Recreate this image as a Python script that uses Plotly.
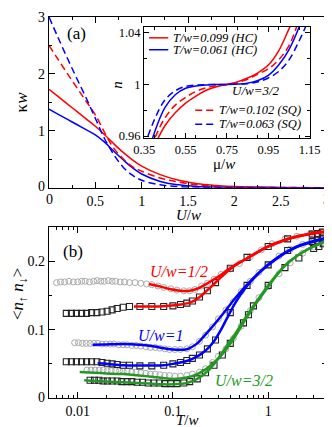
import plotly.graph_objects as go

# ---- panel (a): compressibility vs U/w
U_a = [0, 0.1, 0.2, 0.3, 0.4, 0.5, 0.6, 0.7, 0.8, 0.9, 1.0, 1.2, 1.4, 1.6, 1.8, 2.0, 2.5, 3.0]
kappa_hc_099 = [1.73, 1.60, 1.47, 1.34, 1.21, 1.08, 0.93, 0.77, 0.62, 0.49, 0.38, 0.23, 0.13, 0.07, 0.04, 0.02, 0.005, 0.0]
kappa_hc_061 = [1.38, 1.29, 1.20, 1.11, 1.02, 0.93, 0.80, 0.64, 0.49, 0.35, 0.24, 0.11, 0.05, 0.02, 0.01, 0.005, 0.0, 0.0]
kappa_sq_102 = [2.50, 2.25, 2.00, 1.76, 1.52, 1.28, 0.97, 0.69, 0.51, 0.37, 0.29, 0.17, 0.10, 0.05, 0.025, 0.012, 0.003, 0.0]
kappa_sq_063 = [3.00, 2.63, 2.27, 1.92, 1.58, 1.22, 0.86, 0.58, 0.36, 0.22, 0.13, 0.05, 0.02, 0.01, 0.004, 0.0, 0.0, 0.0]

# ---- inset: density vs mu/w at U/w=3/2
mu = [0.35, 0.40, 0.45, 0.50, 0.55, 0.60, 0.65, 0.70, 0.75, 0.80, 0.85, 0.90, 0.95, 1.00, 1.05, 1.10, 1.15]
n_hc_099 = [0.938, 0.953, 0.968, 0.978, 0.9855, 0.991, 0.9955, 0.9982, 1.0, 1.002, 1.005, 1.009, 1.015, 1.026, 1.043, 1.060, 1.080]
n_hc_061 = [0.935, 0.963, 0.982, 0.992, 0.997, 0.9988, 0.9996, 0.9999, 1.0, 1.0003, 1.001, 1.003, 1.007, 1.015, 1.027, 1.045, 1.070]
n_sq_102 = [0.935, 0.958, 0.974, 0.984, 0.990, 0.9945, 0.9975, 0.999, 1.0, 1.0015, 1.004, 1.008, 1.012, 1.019, 1.030, 1.050, 1.068]
n_sq_063 = [0.952, 0.973, 0.988, 0.995, 0.9985, 0.9995, 0.9998, 1.0, 1.0, 1.0002, 1.0006, 1.002, 1.005, 1.010, 1.019, 1.034, 1.052]
inset_names = ['T/w=0.099 (HC)', 'T/w=0.061 (HC)', 'T/w=0.102 (SQ)', 'T/w=0.063 (SQ)']

# ---- panel (b): double occupancy vs T/w
# open squares
T_sq_a = [0.0076, 0.0086, 0.0097, 0.011, 0.0124, 0.014, 0.0159, 0.018, 0.0204, 0.023, 0.026, 0.03, 0.035, 0.045, 0.06,
          0.08, 0.1, 0.12, 0.14, 0.16, 0.19, 0.23, 0.28, 0.4, 0.6, 1.0, 1.6, 2.9, 3.3, 3.7]
D_sq_u05 = [0.124, 0.124, 0.124, 0.124, 0.124, 0.125, 0.125, 0.126, 0.127, 0.129, 0.131, 0.133, 0.134, 0.134, 0.134,
            0.134, 0.135, 0.137, 0.139, 0.142, 0.148, 0.157, 0.169, 0.190, 0.206, 0.222, 0.233, 0.240, 0.241, 0.243]
D_sq_u10 = [0.053, 0.053, 0.053, 0.053, 0.053, 0.053, 0.053, 0.052, 0.051, 0.050, 0.049, 0.048, 0.048, 0.047, 0.047,
            0.048, 0.050, 0.052, 0.055, 0.058, 0.063, 0.072, 0.085, 0.125, 0.165, 0.195, 0.216, 0.229, 0.231, 0.233]
T_sq_c = [0.0135, 0.015, 0.0167, 0.0185, 0.0205, 0.023, 0.026, 0.029, 0.033, 0.037, 0.042, 0.048, 0.055, 0.063, 0.072,
          0.082, 0.095, 0.11, 0.13, 0.15, 0.18, 0.22, 0.27, 0.33, 0.4, 0.55, 0.62, 0.7, 1.0, 1.5, 2.1, 3.0, 3.4, 3.8]
D_sq_u15 = [0.026, 0.026, 0.026, 0.025, 0.025, 0.025, 0.025, 0.024, 0.024, 0.024, 0.023, 0.023, 0.022, 0.022, 0.022,
            0.021, 0.021, 0.021, 0.022, 0.024, 0.028, 0.037, 0.048, 0.063, 0.080, 0.110, 0.122, 0.135, 0.165, 0.191,
            0.205, 0.219, 0.222, 0.226]

# open circles
T_ci_u05 = [0.006, 0.0066, 0.0073, 0.0081, 0.009, 0.01, 0.011, 0.012, 0.0133, 0.0147, 0.016, 0.0175, 0.019, 0.021,
            0.023, 0.025, 0.028, 0.031, 0.035, 0.04, 0.046, 0.053, 0.06, 0.07, 0.08, 0.095, 0.11, 0.13, 0.15, 0.17,
            0.2, 0.23, 0.27, 0.32, 0.4, 0.5, 0.65, 0.85, 1.1, 1.5, 2.0, 2.8, 3.6]
D_ci_u05 = [0.169, 0.170, 0.170, 0.171, 0.170, 0.170, 0.171, 0.171, 0.170, 0.171, 0.172, 0.171, 0.171, 0.172,
            0.171, 0.171, 0.170, 0.170, 0.169, 0.169, 0.168, 0.167, 0.166, 0.164, 0.162, 0.160, 0.158, 0.157, 0.157, 0.159,
            0.164, 0.168, 0.174, 0.181, 0.189, 0.197, 0.207, 0.217, 0.226, 0.233, 0.237, 0.241, 0.243]
T_ci_u10 = [0.0093, 0.0102, 0.0112, 0.0123, 0.0135, 0.0148, 0.0163, 0.018, 0.02, 0.022, 0.024, 0.027, 0.03, 0.033,
            0.037, 0.041, 0.046, 0.052, 0.058, 0.065, 0.073, 0.082, 0.092, 0.105, 0.12, 0.14, 0.16, 0.19, 0.22, 0.26,
            0.3, 0.36, 0.43, 0.52, 0.65, 0.8, 1.0, 1.3, 1.7, 2.3, 3.0, 3.6]
D_ci_u10 = [0.081, 0.081, 0.080, 0.080, 0.080, 0.080, 0.080, 0.079, 0.079, 0.079, 0.079, 0.078, 0.078, 0.078,
            0.077, 0.077, 0.076, 0.075, 0.074, 0.074, 0.073, 0.072, 0.071, 0.071, 0.071, 0.072, 0.075, 0.083, 0.092, 0.104,
            0.116, 0.129, 0.141, 0.156, 0.171, 0.184, 0.195, 0.208, 0.218, 0.225, 0.230, 0.233]
T_ci_u15 = [0.0125, 0.0138, 0.0152, 0.0168, 0.0185, 0.0204, 0.0225, 0.025, 0.0275, 0.03, 0.033, 0.037, 0.041, 0.046,
            0.052, 0.058, 0.065, 0.073, 0.082, 0.092, 0.105, 0.12, 0.14, 0.16, 0.19, 0.22, 0.26, 0.3, 0.36, 0.43,
            0.52, 0.65, 0.8, 1.0, 1.3, 1.7, 2.3, 3.0, 3.6]
D_ci_u15 = [0.041, 0.041, 0.041, 0.041, 0.041, 0.040, 0.040, 0.040, 0.040, 0.039, 0.039, 0.038, 0.038, 0.037,
            0.036, 0.035, 0.035, 0.034, 0.033, 0.033, 0.032, 0.032, 0.033, 0.035, 0.038, 0.043, 0.052, 0.061, 0.072, 0.087,
            0.105, 0.128, 0.147, 0.163, 0.182, 0.198, 0.212, 0.221, 0.226]

# fitted curves
T_red_up = [0.056, 0.07, 0.09, 0.12, 0.15, 0.18, 0.23, 0.3, 0.37, 0.45, 0.59, 0.75, 0.93, 1.2, 1.5, 2.0, 2.4, 3.0, 3.9]
D_red_up = [0.167, 0.164, 0.160, 0.157, 0.157, 0.160, 0.168, 0.178, 0.187, 0.195, 0.204, 0.213, 0.220, 0.227, 0.232,
            0.237, 0.239, 0.242, 0.244]
T_red_lo = [0.039, 0.05, 0.07, 0.09, 0.12, 0.145, 0.17, 0.2, 0.23, 0.27, 0.32, 0.37, 0.45, 0.59, 0.75, 0.93, 1.2, 1.5,
            2.0, 3.0, 3.9]
D_red_lo = [0.134, 0.134, 0.134, 0.135, 0.137, 0.139, 0.143, 0.150, 0.158, 0.167, 0.177, 0.185, 0.194, 0.204, 0.212,
            0.220, 0.226, 0.231, 0.236, 0.241, 0.243]
T_blue_up = [0.0144, 0.02, 0.03, 0.044, 0.06, 0.08, 0.1, 0.14, 0.18, 0.23, 0.3, 0.37, 0.45, 0.59, 0.75, 0.93, 1.2, 1.5,
             2.0, 2.4, 3.0, 3.9]
D_blue_up = [0.078, 0.0785, 0.079, 0.078, 0.076, 0.073, 0.071, 0.0715, 0.080, 0.096, 0.115, 0.131, 0.146, 0.165, 0.180,
             0.192, 0.204, 0.213, 0.222, 0.226, 0.230, 0.234]
T_blue_lo = [0.0162, 0.02, 0.03, 0.044, 0.06, 0.08, 0.1, 0.12, 0.145, 0.17, 0.2, 0.23, 0.27, 0.32, 0.37, 0.45, 0.59,
             0.75, 0.93, 1.2, 1.5, 2.0, 3.0, 3.9]
D_blue_lo = [0.051, 0.050, 0.048, 0.0475, 0.0475, 0.048, 0.050, 0.052, 0.055, 0.059, 0.065, 0.072, 0.083, 0.100, 0.117,
             0.139, 0.163, 0.179, 0.191, 0.203, 0.212, 0.221, 0.229, 0.233]
T_green_up = [0.0105, 0.015, 0.02, 0.03, 0.044, 0.06, 0.08, 0.1, 0.14, 0.18, 0.23, 0.3, 0.37, 0.45, 0.59, 0.75, 0.93,
              1.2, 1.5, 2.0, 2.4, 3.0, 3.9]
D_green_up = [0.038, 0.037, 0.036, 0.035, 0.033, 0.031, 0.029, 0.028, 0.030, 0.035, 0.044, 0.058, 0.073, 0.090, 0.117,
              0.139, 0.157, 0.178, 0.194, 0.208, 0.215, 0.222, 0.229]
T_green_lo = [0.0117, 0.015, 0.02, 0.03, 0.044, 0.06, 0.08, 0.1, 0.14, 0.18, 0.23, 0.3, 0.37, 0.45, 0.59, 0.75, 0.93,
              1.2, 1.5, 2.0, 2.4, 3.0, 3.9]
D_green_lo = [0.026, 0.025, 0.024, 0.023, 0.022, 0.021, 0.020, 0.020, 0.022, 0.028, 0.039, 0.058, 0.077, 0.094, 0.120,
              0.141, 0.159, 0.179, 0.194, 0.208, 0.215, 0.222, 0.229]

# tick labels
xa_ticks = [0.5, 1, 1.5, 2, 2.5]
ya_ticks = [1, 2, 3]
yb_ticks = [0.1, 0.2]

RED = '#ff0000'
BLUE = '#0000ff'
GREEN = '#229922'
FONT = '"Liberation Serif", "Times New Roman", "DejaVu Serif", serif'
DASH = '7px,4px'

# plot area in pixels: x 41..330, y 6..390
def px(x):
    return (x - 41) / 289

def py(y):
    return (390 - y) / 384

fig = go.Figure()

# panel (a) main curves
for y, c, d in [(kappa_hc_099, RED, 'solid'), (kappa_hc_061, BLUE, 'solid'),
                (kappa_sq_102, RED, DASH), (kappa_sq_063, BLUE, DASH)]:
    fig.add_trace(go.Scatter(x=U_a, y=y, mode='lines', line=dict(color=c, width=1.5, dash=d, shape='spline'),
                             xaxis='x', yaxis='y', showlegend=False))

# inset curves
inset = [(n_hc_099, RED, 'solid'), (n_hc_061, BLUE, 'solid'), (n_sq_102, RED, DASH), (n_sq_063, BLUE, DASH)]
for y, c, d in inset:
    fig.add_trace(go.Scatter(x=mu, y=y, mode='lines', showlegend=False,
                             line=dict(color=c, width=1.5, dash=d, shape='spline'),
                             xaxis='x3', yaxis='y3'))

# panel (b) symbols
for T, D in [(T_ci_u05, D_ci_u05), (T_ci_u10, D_ci_u10), (T_ci_u15, D_ci_u15)]:
    fig.add_trace(go.Scatter(x=T, y=D, mode='markers', xaxis='x2', yaxis='y2', showlegend=False,
                             marker=dict(symbol='circle-open', size=6, color='#aaaaaa', line=dict(width=1))))
for T, D in [(T_sq_a, D_sq_u05), (T_sq_a, D_sq_u10), (T_sq_c, D_sq_u15)]:
    fig.add_trace(go.Scatter(x=T, y=D, mode='markers', xaxis='x2', yaxis='y2', showlegend=False,
                             marker=dict(symbol='square-open', size=6, color='#222222', line=dict(width=1.1))))
for T, D, c in [(T_red_up, D_red_up, RED), (T_red_lo, D_red_lo, RED),
                (T_blue_up, D_blue_up, BLUE), (T_blue_lo, D_blue_lo, BLUE),
                (T_green_up, D_green_up, GREEN), (T_green_lo, D_green_lo, GREEN)]:
    fig.add_trace(go.Scatter(x=T, y=D, mode='lines', xaxis='x2', yaxis='y2', showlegend=False,
                             line=dict(color=c, width=2.5, shape='spline', smoothing=0.6)))

axis_common = dict(showline=True, linecolor='black', linewidth=1.3, mirror='ticks', ticks='inside',
                   tickcolor='black', tickwidth=1, showgrid=False, zeroline=False, ticklabeloverflow='allow',
                   tickfont=dict(family=FONT, size=14, color='black'))
minor_common = dict(ticks='inside', ticklen=3, tickcolor='black', tickwidth=1, showgrid=False)
inset_tickfont = dict(family=FONT, size=12.5, color='black')

fig.update_layout(
    width=332, height=427,
    margin=dict(l=41, r=2, t=6, b=37),
    paper_bgcolor='white', plot_bgcolor='white',
    font=dict(family=FONT, size=14, color='black'),
    showlegend=False,
    xaxis=dict(axis_common, domain=[0, 1], range=[0, 3], tickvals=xa_ticks, ticklen=6, anchor='y',
               minor=dict(minor_common, dtick=0.25)),
    yaxis=dict(axis_common, domain=[0.552, 1], range=[0, 3], tickvals=ya_ticks, ticklen=6, anchor='x',
               minor=dict(minor_common, dtick=0.5)),
    xaxis2=dict(axis_common, domain=[0, 0.993], type='log', range=[-2.301, 0.597], anchor='y2',
                tickvals=[0.01, 0.1, 1], ticktext=['0.01', '0.1', '1'], ticklen=6,
                minor=dict(minor_common, dtick='D1')),
    yaxis2=dict(axis_common, domain=[0, 0.448], range=[0, 0.25], tickvals=yb_ticks, ticklen=6, anchor='x2',
                minor=dict(minor_common, dtick=0.05)),
    xaxis3=dict(axis_common, domain=[px(140), px(312)], range=[0.35, 1.15], tick0=0.35, dtick=0.2, ticklen=5,
                anchor='y3', tickfont=inset_tickfont, minor=dict(minor_common, dtick=0.1)),
    yaxis3=dict(axis_common, domain=[py(128), py(16)], range=[0.9585, 1.0445], tickvals=[0.96, 1, 1.04],
                ticktext=['0.96', '1', '1.04'], ticklen=5, anchor='x3', tickfont=inset_tickfont,
                minor=dict(minor_common, tickvals=[0.98, 1.02])),
)

# inset key: sample line + label, positioned in pixels
key_pos = [(145, 165, 27), (145, 165, 39), (193, 213, 100), (193, 213, 114)]
for (x0, x1, yk), (y, c, d), name in zip(key_pos, inset, inset_names):
    fig.add_shape(type='line', xref='paper', yref='paper', x0=px(x0), x1=px(x1), y0=py(yk), y1=py(yk),
                  line=dict(color=c, width=1.5, dash=d))
    fig.add_annotation(text='<i>' + name + '</i>', xref='paper', yref='paper', x=px(x1 + 3), y=py(yk),
                       showarrow=False, xanchor='left', yanchor='middle',
                       font=dict(family=FONT, size=12.5, color='black'))

# panel labels, curve labels, axis titles and the corner tick labels (pixel positions)
annots = [
    dict(text='(a)', x=70, y=23, color='black', size=17),
    dict(text='(b)', x=66, y=242, color='black', size=17),
    dict(text='<i>U/w=3/2</i>', x=256, y=80, color='black', size=13),
    dict(text='<i>U/w=1/2</i>', x=176, y=262, color=RED, size=16),
    dict(text='<i>U/w=1</i>', x=157, y=327, color=BLUE, size=16),
    dict(text='<i>U/w=3/2</i>', x=244, y=372, color=GREEN, size=16),
    dict(text='<i>U</i>/<i>w</i>', x=186, y=206, color='black', size=15),
    dict(text='<i>T</i>/<i>w</i>', x=185, y=412, color='black', size=15),
    dict(text='μ/<i>w</i>', x=223, y=154, color='black', size=15),
    dict(text='κ<i>w</i>', x=12, y=92, color='black', size=17, angle=-90),
    dict(text='&lt;<i>n</i><sub>↑</sub> <i>n</i><sub>↓</sub>&gt;', x=10, y=285, color='black', size=17, angle=-90),
    dict(text='<i>n</i>', x=112, y=74, color='black', size=15, angle=-90),
    dict(text='0', x=42, y=190, color='black', size=14),
    dict(text='3', x=329, y=190, color='black', size=14),
    dict(text='0', x=33, y=177, color='black', size=14),
    dict(text='0', x=33, y=389, color='black', size=14),
]
for a in annots:
    fig.add_annotation(text=a['text'], xref='paper', yref='paper', x=px(a['x']), y=py(a['y']),
                       showarrow=False, xanchor='center', yanchor='middle', textangle=a.get('angle', 0),
                       font=dict(family=FONT, size=a['size'], color=a['color']))

fig.write_html("out.html")
